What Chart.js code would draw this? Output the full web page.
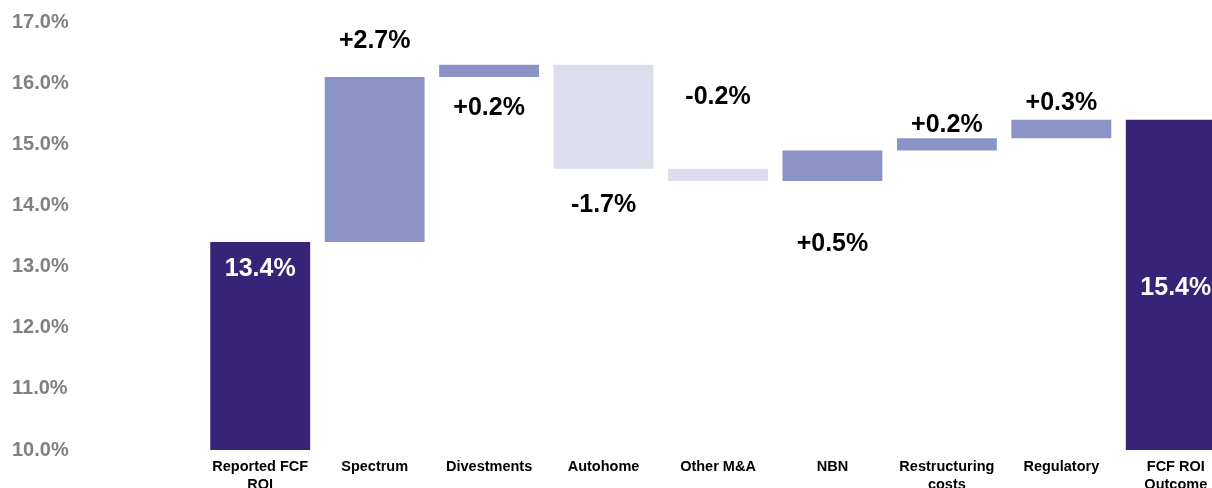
<!DOCTYPE html>
<html>
<head>
<meta charset="utf-8">
<script src="https://cdn.jsdelivr.net/npm/chart.js@4"></script>
<style>
  html, body { margin: 0; padding: 0; background: #fff; overflow: hidden; }
  #wrap { width: 1212px; height: 488px; overflow: hidden; position: relative; }
  #roiChart { position: absolute; left: 0; top: 0; }
</style>
</head>
<body>
<div id="wrap"><canvas id="roiChart" width="1236" height="500"></canvas></div>
<script>
// FCF ROI bridge
const categories = [['Reported FCF', 'ROI'], 'Spectrum', 'Divestments', 'Autohome', 'Other M&A', 'NBN', ['Restructuring', 'costs'], 'Regulatory', ['FCF ROI', 'Outcome']];
const startValue = 13.4;
const movements = [2.7, 0.2, -1.7, -0.2, 0.5, 0.2, 0.3];
const endValue = 15.4;
const axisMin = 10;

// build floating bars from the movements
const bars = [[axisMin, startValue]];
const labels = [startValue.toFixed(1) + '%'];
const kinds = ['total'];
let level = startValue;
movements.forEach(m => {
    const next = Math.round((level + m) * 10) / 10;
    bars.push([level, next]);
    labels.push((m > 0 ? '+' : '') + m.toFixed(1) + '%');
    kinds.push(m >= 0 ? 'up' : 'down');
    level = next;
});
bars.push([axisMin, endValue]);
labels.push(endValue.toFixed(1) + '%');
kinds.push('total');

const colours = { total: '#372479', up: '#8b93c6', down: '#dcdeee' };

// label placement: where each label sits relative to its bar, and how far (px) to the text centre
const labelPlace = ['inside', 'above', 'below', 'below', 'above', 'below', 'above', 'above', 'inside'];
const labelGap = [25, 38, 29, 34, 74, 61, 15, 19, 166];

const barLabels = {
    id: 'barLabels',
    afterDatasetsDraw(chart) {
        const ctx = chart.ctx;
        const meta = chart.getDatasetMeta(0);
        ctx.save();
        ctx.font = 'bold 25px "Liberation Sans", Arial, sans-serif';
        ctx.textAlign = 'center';
        ctx.textBaseline = 'alphabetic';
        const half = ctx.measureText('0').actualBoundingBoxAscent / 2;
        meta.data.forEach((bar, i) => {
            const top = Math.min(bar.y, bar.base);
            const bottom = Math.max(bar.y, bar.base);
            let y;
            if (labelPlace[i] === 'above') y = top - labelGap[i];
            else if (labelPlace[i] === 'below') y = bottom + labelGap[i];
            else y = top + labelGap[i];
            ctx.fillStyle = labelPlace[i] === 'inside' ? '#ffffff' : '#000000';
            ctx.fillText(labels[i], bar.x, y + half);
        });
        ctx.restore();
    }
};

new Chart(document.getElementById('roiChart'), {
    type: 'bar',
    data: {
        labels: categories,
        datasets: [{
            data: bars,
            backgroundColor: kinds.map(k => colours[k]),
            borderWidth: 0,
            barPercentage: 1,
            categoryPercentage: 0.873
        }]
    },
    options: {
        responsive: false,
        animation: false,
        layout: { padding: { left: 12, right: 3, top: 22, bottom: 0 } },
        plugins: {
            legend: { display: false },
            tooltip: { enabled: false }
        },
        scales: {
            x: {
                grid: { display: false, drawTicks: false },
                border: { display: false },
                afterFit(scale) { scale.height = 50; },
                ticks: {
                    autoSkip: false,
                    maxRotation: 0,
                    minRotation: 0,
                    padding: 8,
                    color: '#000000',
                    font: { family: '"Liberation Sans", Arial, sans-serif', size: 14.5, weight: 'bold', lineHeight: 1.25 }
                }
            },
            y: {
                min: axisMin,
                max: 17,
                grid: { display: false, drawTicks: false },
                border: { display: false },
                afterFit(scale) { scale.width = 191; },
                ticks: {
                    stepSize: 1,
                    crossAlign: 'far',
                    color: '#808080',
                    font: { family: '"Liberation Sans", Arial, sans-serif', size: 20, weight: 'bold' },
                    callback: v => v.toFixed(1) + '%'
                }
            }
        }
    },
    plugins: [barLabels]
});
</script>
</body>
</html>
